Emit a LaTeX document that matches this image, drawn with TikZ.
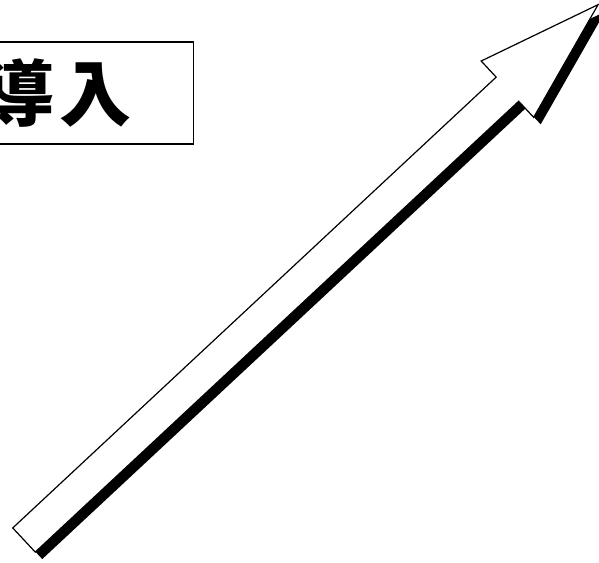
\documentclass[tikz,border=0pt]{standalone}
\usepackage{fontspec}
\newfontfamily\jpfont{Noto Sans CJK JP}
\begin{document}
\begin{tikzpicture}[
  x=0.75pt, y=0.75pt,
  labelbox/.style={rectangle, draw, line width=0.9pt, minimum height=76.5pt, text width=140pt, inner xsep=46.5pt, align=right, font=\jpfont\bfseries\fontsize{54pt}{60pt}\selectfont},
  arrowbody/.style={draw, fill=white, line width=0.9pt, line join=miter},
  arrowshadow/.style={fill=black}
]
\useasboundingbox (0,0) rectangle (599,-563);
\clip (0,0) rectangle (599,-563);

% label box, cut off at the left edge
\node[labelbox, anchor=east] (intro) at (194,-93) {導\hspace{4pt}入};

% block arrow with its shadow
\begin{scope}[shift={(31,-547)}, rotate=43]
  \path[arrowshadow] (0,16.5) -- (661,16.5) -- (661,38.5) -- (785,0) -- (661,-38.5) -- (661,-16.5) -- (0,-16.5) -- cycle;
\end{scope}
\begin{scope}[shift={(24,-540)}, rotate=43]
  \path[arrowbody] (0,16.5) -- (661,16.5) -- (661,38.5) -- (785,0) -- (661,-38.5) -- (661,-16.5) -- (0,-16.5) -- cycle;
\end{scope}
\end{tikzpicture}
\end{document}
